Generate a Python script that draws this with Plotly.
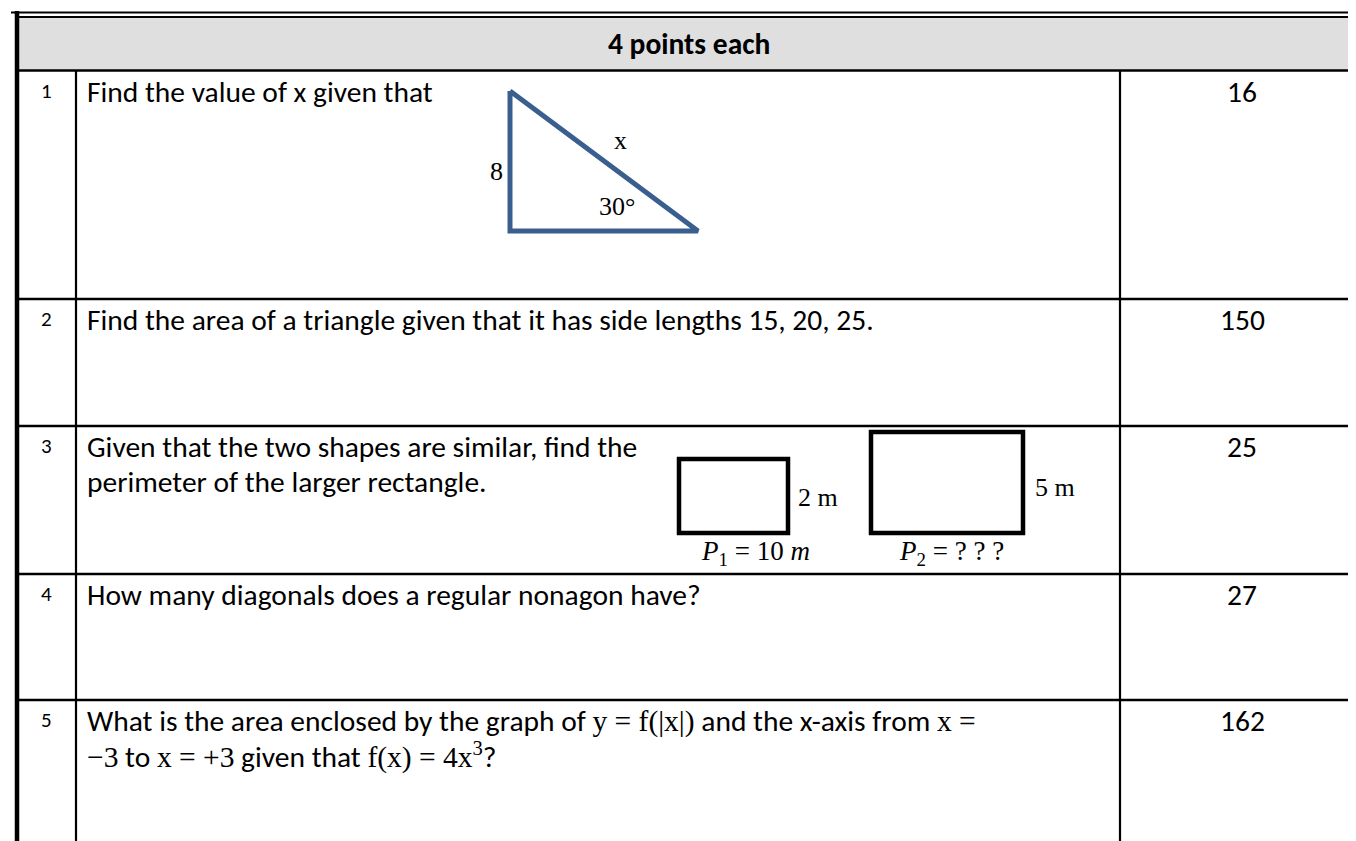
import plotly.graph_objects as go

W, H = 1356, 841

# ---------------- data ----------------
header_text = "4 points each"
q_numbers = ["1", "2", "3", "4", "5"]
answers = ["16", "150", "25", "27", "162"]


def m(s):
    return '<span style="font-family:Liberation Serif">' + s + '</span>'


q_lines = [
    ["Find the value of x given that"],
    ["Find the area of a triangle given that it has side lengths 15, 20, 25."],
    ["Given that the two shapes are similar, find the",
     "perimeter of the larger rectangle."],
    ["How many diagonals does a regular nonagon have?"],
    ["What is the area enclosed by the graph of " + m("y = f(|x|)") +
     " and the x-axis from " + m("x ="),
     m("\u22123") + " to " + m("x = +3") + " given that " +
     m("f(x) = 4x<sup>3</sup>") + "?"],
]

tri_labels = ["8", "x", "30\u00b0"]
rect_side_labels = ["2 m", "5 m"]
rect_perim_labels = ["<i>P</i><sub>1</sub> = 10 <i>m</i>",
                     "<i>P</i><sub>2</sub> = ? ? ?"]

# ---------------- layout geometry ----------------
SANS = "Carlito, Calibri, Lato, sans-serif"
SERIF = "Liberation Serif, Times New Roman, serif"

x_left, x_num, x_ans, x_right = 9, 68, 1112, 1352
y_top, y_head = 9, 62.5
row_bounds = [62.5, 291, 418, 566, 692, 839]
line_gap = 35
body_size = 29.5

fig = go.Figure()
shapes = []
ann = []

# header fill
shapes.append(dict(type="rect", x0=x_left, x1=x_right, y0=y_top, y1=y_head,
                   fillcolor="#DFDFDF", line=dict(width=0), layer="below"))


def hline(y, x0, x1, w):
    shapes.append(dict(type="line", x0=x0, x1=x1, y0=y, y1=y,
                       line=dict(color="black", width=w)))


def vline(x, y0, y1, w):
    shapes.append(dict(type="line", x0=x, x1=x, y0=y0, y1=y1,
                       line=dict(color="black", width=w)))


# outer double border
hline(4.5, 3, 1355.5, 1.8)
hline(y_top, x_left, x_right, 1.8)
vline(1355, 3, H, 1.8)
vline(x_right, y_top, H, 1.8)
vline(x_left, 3, H, 4.5)
hline(row_bounds[-1], x_left, 1355, 3)

# row and column lines
for yb in row_bounds[:-1]:
    hline(yb, x_left, x_right, 2.6)
vline(x_num, y_head, row_bounds[-1], 2.2)
vline(x_ans, y_head, row_bounds[-1], 2.2)

# header text
ann.append(dict(x=(x_left + x_right) / 2, y=(y_top + y_head) / 2,
                text="<b>" + header_text + "</b>",
                font=dict(family=SANS, size=body_size, color="black"),
                xanchor="center", yanchor="middle", showarrow=False))

for i, num in enumerate(q_numbers):
    y0 = row_bounds[i] + 21
    ann.append(dict(x=38, y=y0 - 1, text=num,
                    font=dict(family=SANS, size=21, color="black"),
                    xanchor="center", yanchor="middle", showarrow=False))
    for k, ln in enumerate(q_lines[i]):
        ann.append(dict(x=77, y=y0 + k * line_gap, text=ln,
                        font=dict(family=SANS, size=body_size, color="black"),
                        xanchor="left", yanchor="middle", showarrow=False))
    ann.append(dict(x=1234, y=y0, text=answers[i],
                    font=dict(family=SANS, size=body_size, color="black"),
                    xanchor="center", yanchor="middle", showarrow=False))

# triangle drawing (question 1)
tri_x = [502, 502, 690, 502]
tri_y = [83, 223, 223, 83]
fig.add_trace(go.Scatter(x=tri_x, y=tri_y, mode="lines",
                         line=dict(color="#3A5F8E", width=5),
                         hoverinfo="skip", showlegend=False))
tri_pos = [(488, 163), (612, 132), (609, 198)]
for lab, (px, py) in zip(tri_labels, tri_pos):
    ann.append(dict(x=px, y=py, text=lab,
                    font=dict(family=SERIF, size=26, color="black"),
                    xanchor="center", yanchor="middle", showarrow=False))

# rectangles (question 3)
rects = [(671, 780, 451, 525), (863, 1015, 424, 525)]
for (a, b, c, d) in rects:
    shapes.append(dict(type="rect", x0=a, x1=b, y0=c, y1=d,
                       line=dict(color="black", width=4.5)))
side_pos = [(810, 489), (1047, 479)]
for lab, (px, py) in zip(rect_side_labels, side_pos):
    ann.append(dict(x=px, y=py, text=lab,
                    font=dict(family=SERIF, size=26, color="black"),
                    xanchor="center", yanchor="middle", showarrow=False))
perim_pos = [(747, 545), (943, 545)]
for lab, (px, py) in zip(rect_perim_labels, perim_pos):
    ann.append(dict(x=px, y=py, text=lab,
                    font=dict(family=SERIF, size=27, color="black"),
                    xanchor="center", yanchor="middle", showarrow=False))

fig.update_layout(
    width=W, height=H,
    margin=dict(l=0, r=0, t=0, b=0),
    paper_bgcolor="white", plot_bgcolor="white",
    xaxis=dict(range=[0, W], visible=False, fixedrange=True),
    yaxis=dict(range=[H, 0], visible=False, fixedrange=True),
    shapes=shapes, annotations=ann, showlegend=False,
)

fig.write_html("out.html", config={"displayModeBar": False})
